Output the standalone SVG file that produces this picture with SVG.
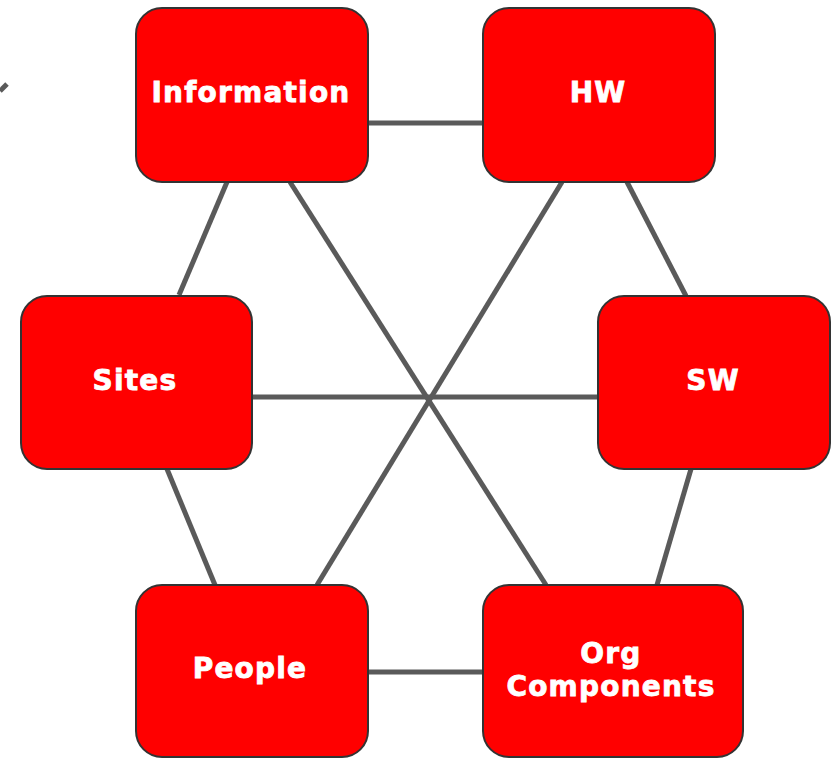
<svg xmlns="http://www.w3.org/2000/svg" width="835" height="759" viewBox="0 0 835 759">
<style>
.box{fill:#ff0000;stroke:#333333;stroke-width:2}
.lbl{fill:#ffffff;stroke:#ffffff;stroke-width:0.8;font-family:"DejaVu Sans","Liberation Sans",sans-serif;font-weight:bold;font-size:28px;letter-spacing:1.2px;text-anchor:middle}
.conn line{stroke:#5a5a5a;stroke-width:5;stroke-linecap:butt}
</style>
<rect width="835" height="759" fill="#ffffff"/>
<g id="connectors" class="conn">
<line x1="368" y1="123" x2="483" y2="123"/>
<line x1="227" y1="182" x2="179" y2="295"/>
<line x1="290" y1="182" x2="546" y2="585"/>
<line x1="562" y1="182" x2="317" y2="585"/>
<line x1="627" y1="182" x2="686" y2="296"/>
<line x1="252" y1="397" x2="598" y2="397"/>
<line x1="167" y1="469" x2="215" y2="585"/>
<line x1="691" y1="469" x2="657" y2="585"/>
<line x1="368" y1="672" x2="483" y2="672"/>
<line x1="0" y1="91" x2="7" y2="84" style="stroke-width:5"/>
</g>
<g id="node-information">
<rect class="box" x="136" y="8" width="232" height="174" rx="26"/>
<text class="lbl" x="251" y="102">Information</text>
</g>
<g id="node-hw">
<rect class="box" x="483" y="8" width="232" height="174" rx="26"/>
<text class="lbl" x="598" y="102">HW</text>
</g>
<g id="node-sites">
<rect class="box" x="21" y="296" width="231" height="173" rx="26"/>
<text class="lbl" x="135" y="390">Sites</text>
</g>
<g id="node-sw">
<rect class="box" x="598" y="296" width="232" height="173" rx="26"/>
<text class="lbl" x="713" y="390">SW</text>
</g>
<g id="node-people">
<rect class="box" x="136" y="585" width="232" height="172" rx="26"/>
<text class="lbl" x="250" y="678">People</text>
</g>
<g id="node-org-components">
<rect class="box" x="483" y="585" width="260" height="172" rx="26"/>
<text class="lbl" x="611" y="663">Org</text>
<text class="lbl" x="611" y="696">Components</text>
</g>
</svg>
